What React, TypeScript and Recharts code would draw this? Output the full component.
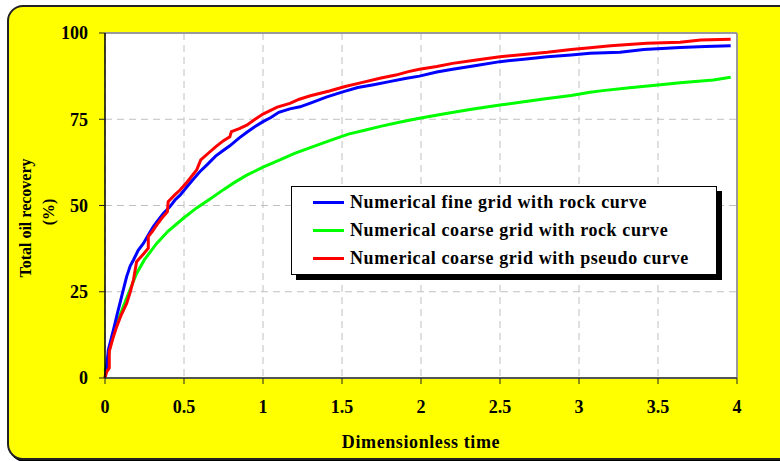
import React from 'react';
import { LineChart, Line, XAxis, YAxis, CartesianGrid, Legend, ReferenceLine } from 'recharts';

// dimensionless time / recovery (%) for each simulation
const fineRockT = [0, 0.01, 0.021, 0.053, 0.08, 0.105, 0.137, 0.16, 0.18, 0.21, 0.243, 0.275, 0.306, 0.34, 0.369, 0.41, 0.443, 0.475, 0.52, 0.56, 0.6, 0.65, 0.7, 0.75, 0.79, 0.85, 0.9, 0.95, 1.0, 1.05, 1.1, 1.17, 1.234, 1.3, 1.4, 1.51, 1.6, 1.7, 1.8, 1.9, 1.99, 2.1, 2.2, 2.35, 2.5, 2.65, 2.8, 2.95, 3.07, 3.26, 3.41, 3.64, 3.8, 3.96];
const fineRockV = [0, 3, 8.1, 13.9, 19, 23.6, 29.4, 32.5, 34.2, 37, 39.0, 41.5, 43.9, 46, 47.7, 49.6, 51.6, 53.0, 55.5, 57.7, 59.8, 62, 64.3, 66, 67.3, 69.6, 71.3, 72.9, 74.3, 75.5, 77, 78, 78.6, 79.7, 81.4, 83, 84.2, 85, 85.9, 86.8, 87.5, 88.7, 89.5, 90.6, 91.7, 92.4, 93.1, 93.6, 94.1, 94.4, 95.2, 95.8, 96.1, 96.3];

const coarseRockT = [0, 0.015, 0.032, 0.06, 0.09, 0.116, 0.16, 0.2, 0.25, 0.327, 0.4, 0.496, 0.58, 0.665, 0.75, 0.82, 0.897, 1.0, 1.107, 1.2, 1.33, 1.44, 1.54, 1.65, 1.75, 1.87, 1.99, 2.15, 2.31, 2.5, 2.65, 2.8, 2.95, 3.07, 3.15, 3.32, 3.5, 3.64, 3.85, 3.96];
const coarseRockV = [2, 5, 9.1, 13.5, 17.5, 20.7, 25.8, 30.3, 34.3, 39.0, 42.6, 46.3, 49.3, 51.9, 54.6, 56.7, 58.8, 61.1, 63.2, 65.1, 67.3, 69.1, 70.7, 71.9, 73.0, 74.2, 75.3, 76.6, 77.8, 79.1, 80.1, 81.0, 81.9, 82.8, 83.3, 84.1, 84.9, 85.6, 86.4, 87.2];

const coarsePseudoT = [0, 0.01, 0.027, 0.027, 0.05, 0.074, 0.1, 0.137, 0.16, 0.18, 0.2, 0.215, 0.245, 0.274, 0.274, 0.3, 0.33, 0.359, 0.395, 0.4, 0.44, 0.475, 0.52, 0.58, 0.606, 0.65, 0.7, 0.75, 0.79, 0.8, 0.85, 0.897, 0.95, 1.0, 1.09, 1.17, 1.23, 1.3, 1.42, 1.52, 1.63, 1.74, 1.84, 1.92, 1.99, 2.1, 2.2, 2.35, 2.5, 2.65, 2.8, 2.95, 3.07, 3.2, 3.43, 3.64, 3.77, 3.96];
const coarsePseudoV = [0, 1.8, 2.9, 7.7, 11.5, 14.9, 18, 21.6, 25, 28.4, 33.7, 34.5, 36, 37.6, 41.0, 42.5, 44.5, 46.3, 48.2, 51.1, 53, 54.5, 56.8, 60.3, 63.2, 65, 67, 68.8, 69.9, 71.4, 72.3, 73.3, 75, 76.5, 78.5, 79.6, 80.8, 81.8, 83.2, 84.5, 85.7, 86.9, 87.8, 88.8, 89.5, 90.3, 91.2, 92.2, 93.1, 93.8, 94.4, 95.2, 95.7, 96.3, 97.0, 97.3, 98.0, 98.2];

const xTicks = [0, 0.5, 1, 1.5, 2, 2.5, 3, 3.5, 4];
const yTicks = [0, 25, 50, 75, 100];

const seriesNames = [
    'Numerical fine grid with rock curve',
    'Numerical coarse grid with rock curve',
    'Numerical coarse grid with pseudo curve',
];
const seriesColors = ['#0000ff', '#00ff00', '#ff0000'];

const toPoints = (ts: number[], vs: number[]) => ts.map((t, i) => ({ t, v: vs[i] }));

const FONT = '"Liberation Serif", "Times New Roman", serif';

const LegendBox = () => (
    <div
        style={{
            width: 424,
            height: 87,
            border: '1px solid #000',
            background: '#fff',
            boxShadow: '5px 5px 0 #000',
            fontFamily: FONT,
            fontWeight: 'bold',
            fontSize: 18,
            letterSpacing: 0.6,
            color: '#000',
            boxSizing: 'content-box',
        }}
    >
        {seriesNames.map((name, i) => (
            <div key={name} style={{ display: 'flex', alignItems: 'center', height: 28, marginTop: i === 0 ? 1 : 0, paddingLeft: 21, whiteSpace: 'nowrap' }}>
                <span style={{ display: 'inline-block', width: 31, height: 3, background: seriesColors[i], marginRight: 6 }} />
                <span>{name}</span>
            </div>
        ))}
    </div>
);

const YTitle = () => (
    <g>
        <text transform="translate(31, 218) rotate(-90)" textAnchor="middle" fontFamily={FONT} fontWeight="bold" fontSize={16} fill="#000">
            Total oil recovery
        </text>
        <text transform="translate(54, 212) rotate(-90)" textAnchor="middle" fontFamily={FONT} fontWeight="bold" fontSize={16} fill="#000">
            (%)
        </text>
    </g>
);

const XTitle = () => (
    <text x={421} y={448} textAnchor="middle" fontFamily={FONT} fontWeight="bold" fontSize={18} letterSpacing={0.6} fill="#000">
        Dimensionless time
    </text>
);

const tickStyle = { fontFamily: FONT, fontWeight: 'bold' as const, fontSize: 18, fill: '#000' };

export default function App() {
    return (
        <div style={{ position: 'absolute', left: 0, top: 0, width: 780, height: 461, overflow: 'hidden' }}>
            <div
                style={{
                    position: 'absolute',
                    left: 7,
                    top: 5,
                    width: 784,
                    height: 451,
                    background: '#ffff00',
                    border: '2px solid #222',
                    borderRadius: 16,
                    boxShadow: '2px 2px 0 #000',
                }}
            />
            <div style={{ position: 'absolute', left: 0, top: 0 }}>
                <LineChart width={780} height={461} margin={{ top: 33, right: 43, left: 0, bottom: 0 }}>
                    <CartesianGrid stroke="#c0c0c0" strokeDasharray="7 5" fill="#fff" />
                    <XAxis
                        dataKey="t"
                        type="number"
                        domain={[0, 4]}
                        ticks={xTicks}
                        height={83}
                        tick={tickStyle}
                        tickSize={6}
                        tickMargin={16}
                        stroke="#444"
                        axisLine={{ stroke: '#555', strokeWidth: 2 }}
                        tickLine={{ stroke: '#222' }}
                        allowDuplicatedCategory={false}
                        label={{ content: () => <XTitle /> }}
                    />
                    <YAxis
                        type="number"
                        domain={[0, 100]}
                        ticks={yTicks}
                        width={105}
                        tick={tickStyle}
                        tickSize={6}
                        tickMargin={11}
                        axisLine={{ stroke: '#000', strokeWidth: 1.5 }}
                        tickLine={{ stroke: '#222' }}
                        label={{ content: () => <YTitle /> }}
                    />
                    <ReferenceLine y={100} stroke="#9a9a9a" strokeWidth={2} />
                    <ReferenceLine x={4} stroke="#9a9a9a" strokeWidth={2} />
                    <Legend layout="vertical" align="center" verticalAlign="middle" content={() => <LegendBox />} wrapperStyle={{ left: 291, top: 186, width: 430 }} />
                    <Line data={toPoints(coarseRockT, coarseRockV)} dataKey="v" name={seriesNames[1]} type="linear" stroke={seriesColors[1]} strokeWidth={3} dot={false} isAnimationActive={false} />
                    <Line data={toPoints(fineRockT, fineRockV)} dataKey="v" name={seriesNames[0]} type="linear" stroke={seriesColors[0]} strokeWidth={3} dot={false} isAnimationActive={false} />
                    <Line data={toPoints(coarsePseudoT, coarsePseudoV)} dataKey="v" name={seriesNames[2]} type="linear" stroke={seriesColors[2]} strokeWidth={3} dot={false} isAnimationActive={false} />
                </LineChart>
            </div>
        </div>
    );
}
